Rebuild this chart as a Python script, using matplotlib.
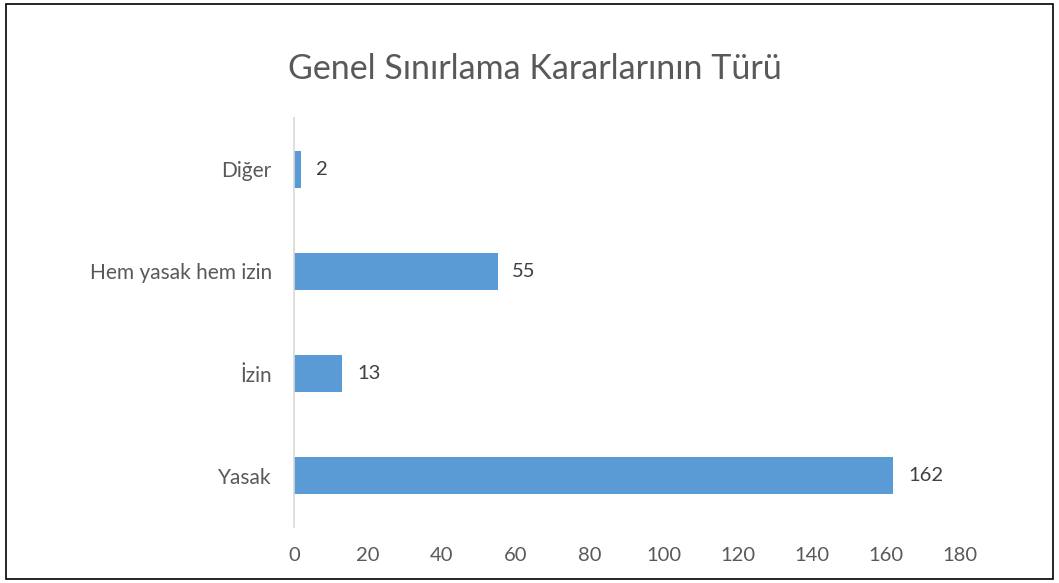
import matplotlib
matplotlib.use("Agg")
import matplotlib.pyplot as plt
from matplotlib.patches import Rectangle

categories = ["Yasak", "İzin", "Hem yasak hem izin", "Diğer"]
values = [162, 13, 55, 2]
xticks = [0, 20, 40, 60, 80, 100, 120, 140, 160, 180]
title = "Genel Sınırlama Kararlarının Türü"

plt.rcParams['font.family'] = ['Lato', 'DejaVu Sans']
text_color = "#595959"
bar_color = "#5B9BD5"

fig = plt.figure(figsize=(10.59, 5.83), dpi=100)
ax = fig.add_axes([294/1059, 56/583, 666/1059, 409/583])

y = range(len(categories))
ax.barh(list(y), values, height=0.36, color=bar_color)
for yi, v in zip(y, values):
    ax.text(v + 4.0, yi, str(v), va="center", ha="left", fontsize=14.5, color="#404040")

ax.set_xlim(0, 180)
ax.set_ylim(-0.5, 3.5)
ax.set_xticks(xticks)
ax.set_xticklabels([str(t) for t in xticks], fontsize=14.5, color=text_color)
ax.set_yticks(list(y))
ax.set_yticklabels(categories, fontsize=15, color=text_color)
ax.tick_params(axis="both", length=0)
ax.tick_params(axis="x", pad=14.5)
ax.tick_params(axis="y", pad=16)
for s in ["top", "right", "bottom"]:
    ax.spines[s].set_visible(False)
ax.spines["left"].set_color("#D9D9D9")
ax.spines["left"].set_linewidth(1.2)

fig.text(535/1059, 1 - 69/583, title, ha="center", va="center", fontsize=24.5, color=text_color)

fig.patches.append(Rectangle((6/1059, 4/583), 1047/1059, 575/583, transform=fig.transFigure,
                             fill=False, edgecolor="black", linewidth=1.2))

fig.savefig("out.png", dpi=100)
